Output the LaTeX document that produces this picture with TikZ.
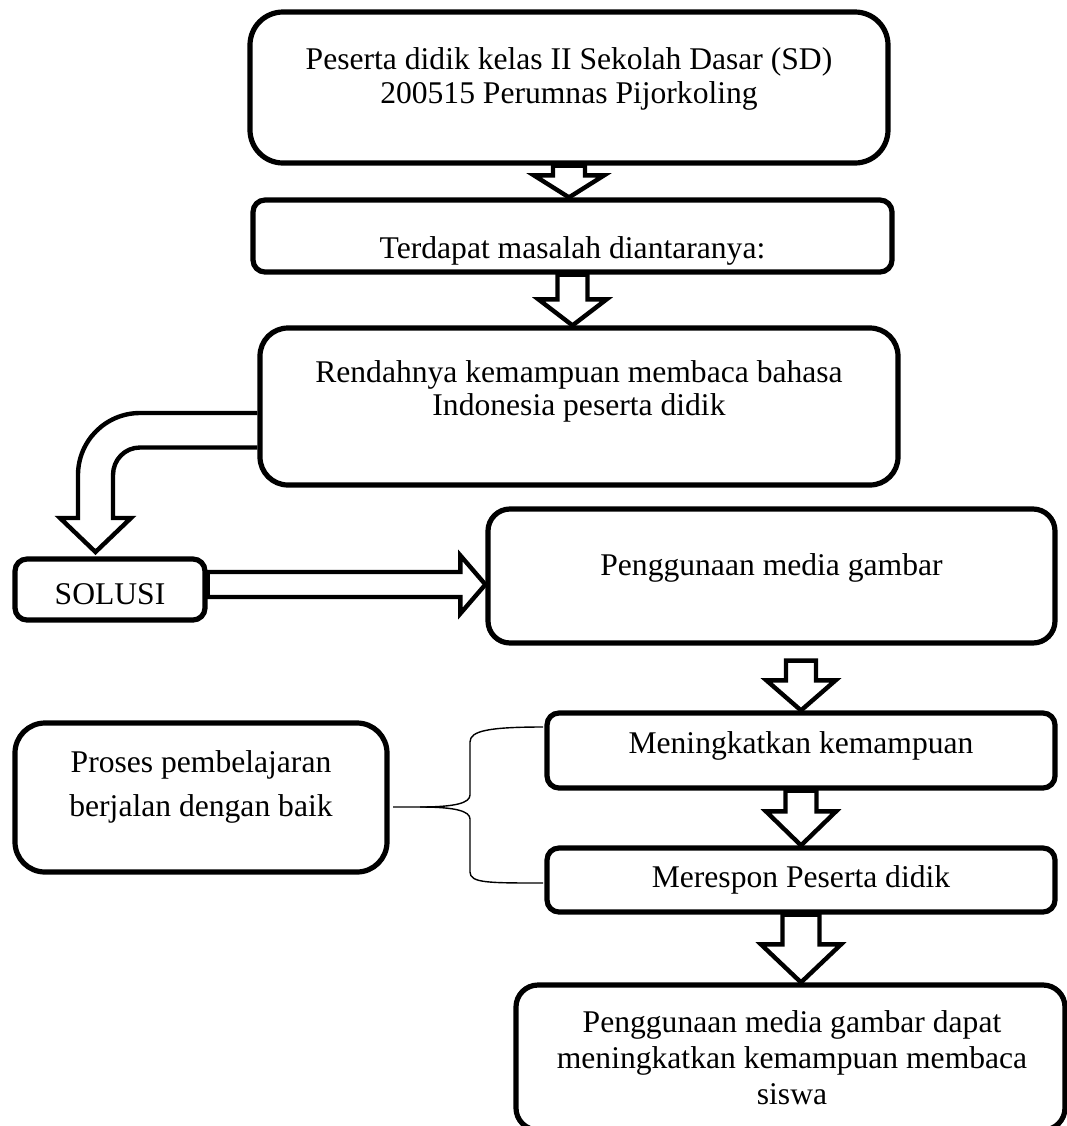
\documentclass[tikz,border=0pt]{standalone}
\usepackage{fontspec}
\setmainfont{Liberation Serif}
\usepackage{tikz}
\usetikzlibrary{calc,backgrounds}

\tikzset{
  kotak/.style={draw, line width=2.6pt, fill=white, inner sep=0pt},
  panah/.style={draw, line width=2.2pt, fill=white, line join=miter},
  kurung/.style={draw, line width=0.7pt},
  tulisan/.style={inner sep=0pt, anchor=base, align=flush center, font=\fontsize{15.8pt}{17pt}\selectfont}
}

% block arrow down: top point, tip, half shaft, half head, head length
\newcommand{\panahbawah}[5]{%
  \draw[panah] let \p1=#1, \p2=#2 in
    (\x2-#3,\y1) -- (\x2-#3,\y2+#5) -- (\x2-#4,\y2+#5) -- (\x2,\y2)
    -- (\x2+#4,\y2+#5) -- (\x2+#3,\y2+#5) -- (\x2+#3,\y1) -- cycle;}
% block arrow right
\newcommand{\panahkanan}[5]{%
  \draw[panah] let \p1=#1, \p2=#2 in
    (\x1,\y2+#3) -- (\x2-#5,\y2+#3) -- (\x2-#5,\y2+#4) -- (\x2,\y2)
    -- (\x2-#5,\y2-#4) -- (\x2-#5,\y2-#3) -- (\x1,\y2-#3) -- cycle;}

\begin{document}
\begin{tikzpicture}[x=0.5pt,y=-0.5pt]
        \useasboundingbox (0,0) rectangle (1067,1126);
        \node[kotak, minimum width=319pt, minimum height=75.5pt, rounded corners=16.5pt] (atas) at (569,87.5) {};
        \node[kotak, minimum width=319.5pt, minimum height=36pt, rounded corners=6pt] (masalah) at (572.5,236) {};
        \node[kotak, minimum width=319pt, minimum height=78.5pt, rounded corners=14pt] (rendah) at (579,406.5) {};
        \node[kotak, minimum width=95pt, minimum height=30.5pt, rounded corners=6pt] (solusi) at (110,589.5) {};
        \node[kotak, minimum width=283.5pt, minimum height=67pt, rounded corners=11pt] (media) at (771.5,576) {};
        \node[kotak, minimum width=254pt, minimum height=37.5pt, rounded corners=6pt] (naik) at (801,750.5) {};
        \node[kotak, minimum width=254pt, minimum height=32pt, rounded corners=6pt] (respon) at (801,880) {};
        \node[kotak, minimum width=186pt, minimum height=74.5pt, rounded corners=15pt] (proses) at (201,797.5) {};
        \node[kotak, minimum width=274.5pt, minimum height=72.5pt, rounded corners=11pt] (akhir) at (790.5,1057.5) {};

        \begin{scope}[on background layer]
        \panahbawah{(atas.south)}{(atas.south |- masalah.north)}{8pt}{17.5pt}{11pt}
        \panahbawah{(masalah.south)}{(masalah.south |- rendah.north)}{7.5pt}{17pt}{13pt}
        \panahbawah{([yshift=-7.5pt]media.south)}{(naik.north)}{7.5pt}{17.25pt}{15pt}
        \panahbawah{(naik.south)}{(respon.north)}{7.75pt}{17.5pt}{17pt}
        \panahbawah{(respon.south)}{(respon.south |- akhir.north)}{9.25pt}{20pt}{19pt}
        \panahkanan{(solusi.east)}{([yshift=-4.25pt]media.west)}{6.25pt}{14.5pt}{12.5pt}
        \draw[panah] ([yshift=-3.25pt]rendah.west) -- (140,413)
            .. controls (105.8,413) and (78,440.8) .. (78,475) -- (78,518) -- (60,518)
            -- (95.5,552) -- (131,518) -- (113,518) -- (113,475)
            .. controls (113,459.8) and (124.8,447.5) .. (140,447.5)
            -- ([yshift=-20.5pt]rendah.west);
        \end{scope}

        \coordinate (kurungujung) at (393,807);
        \coordinate (kurungatas) at (543,727);
        \coordinate (kurungbawah) at (543,883);
        \draw[kurung] (kurungujung) -- (420,807) .. controls (455,807) and (470,803) .. (470,795)
            -- (470,742) .. controls (470,731) and (488,727) .. (kurungatas);
        \draw[kurung] (420,807) .. controls (455,807) and (470,811) .. (470,819)
            -- (470,872) .. controls (470,883) and (488,883) .. (kurungbawah);

        \node[tulisan, text width=310pt, font=\fontsize{15.8pt}{17pt}\selectfont] (atastxt) at (569,69)
            {Peserta didik kelas II Sekolah Dasar (SD)\\200515 Perumnas Pijorkoling};
        \node[tulisan] (masalahtxt) at (572.5,258) {Terdapat masalah diantaranya:};
        \node[tulisan, text width=310pt, font=\fontsize{15.8pt}{16.5pt}\selectfont] (rendahtxt) at (579,382)
            {Rendahnya kemampuan membaca bahasa\\Indonesia peserta didik};
        \node[tulisan] (solusitxt) at (110,604) {SOLUSI};
        \node[tulisan] (mediatxt) at (771.5,575) {Penggunaan media gambar};
        \node[tulisan] (naiktxt) at (801,753) {Meningkatkan kemampuan};
        \node[tulisan] (respontxt) at (801,887) {Merespon Peserta didik};
        \node[tulisan, text width=180pt, font=\fontsize{15.8pt}{22pt}\selectfont] (prosestxt) at (201,772)
            {Proses pembelajaran\\berjalan dengan baik};
        \node[tulisan, text width=270pt, font=\fontsize{15.8pt}{18pt}\selectfont] (akhirtxt) at (792,1032)
            {Penggunaan media gambar dapat\\meningkatkan kemampuan membaca\\siswa};
    \end{tikzpicture}
\end{document}
